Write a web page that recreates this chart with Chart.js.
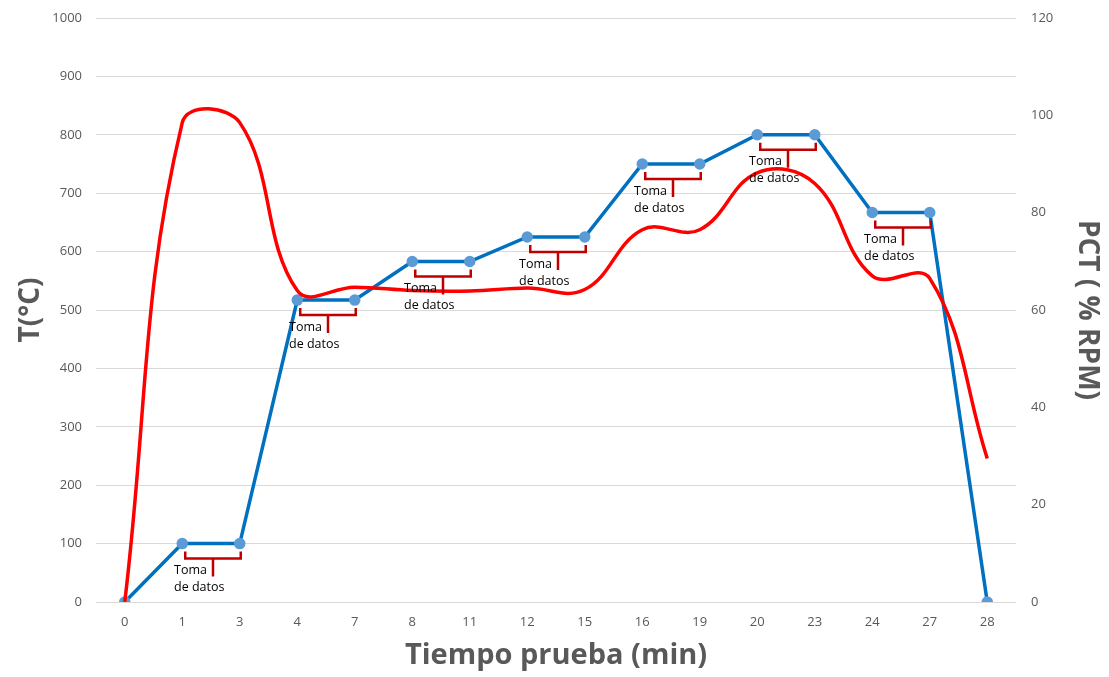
<!DOCTYPE html>
<html>
<head>
<meta charset="utf-8">
<script src="https://cdn.jsdelivr.net/npm/chart.js@4.4.1/dist/chart.umd.min.js"></script>
<style>
  html, body { margin: 0; padding: 0; background: #fff; }
  #wrap { width: 1109px; height: 677px; position: relative; }
</style>
</head>
<body>
<div id="wrap"><canvas id="grafico"></canvas></div>
<script>
// tiempo de prueba (min)
var categorias = ['0','1','3','4','7','8','11','12','15','16','19','20','23','24','27','28'];
// temperatura (°C)
var temperatura = [0, 100, 100, 517, 517, 583, 583, 625, 625, 750, 750, 800, 800, 667, 667, 0];
// PCT (% RPM)
var pct = [0, 98.5, 98.5, 64, 64.7, 64, 63.9, 64.5, 64.2, 76.5, 76.5, 88.2, 86, 67, 66.5, 29.5];
// tramos estables donde se toman datos (indice inicio, indice fin)
var tomaDatos = [[1, 2], [3, 4], [5, 6], [7, 8], [9, 10], [11, 12], [13, 14]];

var gris = '#595959';

// llaves rojas + texto "Toma de datos" debajo de cada tramo plano
var llaves = {
	id: 'llaves',
	afterDatasetsDraw: function(chart) {
		var ctx = chart.ctx;
		var x = chart.scales.x, y = chart.scales.y;
		ctx.save();
		tomaDatos.forEach(function(t) {
			var x1 = x.getPixelForValue(t[0]) + 3;
			var x2 = x.getPixelForValue(t[1]) + 1;
			var yb = y.getPixelForValue(temperatura[t[0]]) + 15;
			var xc = (x1 + x2) / 2;
			ctx.strokeStyle = '#C00000';
			ctx.lineWidth = 2.5;
			ctx.beginPath();
			ctx.moveTo(x1, yb - 7);
			ctx.lineTo(x1, yb);
			ctx.lineTo(x2, yb);
			ctx.lineTo(x2, yb - 7);
			ctx.moveTo(xc, yb);
			ctx.lineTo(xc, yb + 18);
			ctx.stroke();
			ctx.fillStyle = '#000';
			ctx.font = '12.5px "Open Sans", sans-serif';
			ctx.textAlign = 'left';
			ctx.textBaseline = 'middle';
			ctx.fillText('Toma', xc - 39, yb + 12);
			ctx.fillText('de datos', xc - 39, yb + 29);
		});
		ctx.restore();
	}
};

new Chart(document.getElementById('grafico'), {
	type: 'line',
	data: {
		labels: categorias,
		datasets: [
			{
				label: 'PCT',
				data: pct,
				yAxisID: 'y2',
				borderColor: '#FF0000',
				borderWidth: 3.5,
				pointRadius: 0,
				tension: 0.4,
				fill: false
			},
			{
				label: 'T',
				data: temperatura,
				yAxisID: 'y',
				borderColor: '#0070C0',
				borderWidth: 3.5,
				pointRadius: 4,
				pointBackgroundColor: '#5B9BD5',
				pointBorderColor: '#5B9BD5',
				tension: 0,
				fill: false
			}
		]
	},
	options: {
		responsive: true,
		maintainAspectRatio: false,
		animation: false,
		layout: { padding: { top: 18, left: 0, right: 0, bottom: 0 } },
		plugins: { legend: { display: false }, tooltip: { enabled: false } },
		scales: {
			x: {
				offset: true,
				grid: { display: false, drawTicks: false },
				border: { display: false },
				ticks: { color: gris, font: { family: '"Open Sans"', size: 13 }, padding: 12, maxRotation: 0 },
				title: { display: true, text: 'Tiempo prueba (min)', color: gris,
					font: { family: '"Open Sans"', size: 29, weight: 'bold' }, padding: { top: 4 } },
				afterFit: function(s) { s.height = 75; }
			},
			y: {
				position: 'left',
				min: 0, max: 1000,
				ticks: { stepSize: 100, color: gris, font: { family: '"Open Sans"', size: 13 }, padding: 14,
					callback: function(v) { return String(v); } },
				grid: { color: '#D9D9D9', lineWidth: 1, drawTicks: false },
				border: { display: false },
				title: { display: true, text: 'T(°C)', color: gris,
					font: { family: '"Open Sans"', size: 28, weight: 'bold' }, padding: { top: 14, bottom: 0 } },
				afterFit: function(s) { s.width = 96; s.paddingTop = 4; s.paddingBottom = 0; }
			},
			y2: {
				position: 'right',
				min: 0, max: 120,
				ticks: { stepSize: 20, color: gris, font: { family: '"Open Sans"', size: 13 }, padding: 15 },
				grid: { display: false, drawTicks: false },
				border: { display: false },
				title: { display: true, text: 'PCT ( % RPM)', color: gris,
					font: { family: '"Open Sans"', size: 28, weight: 'bold' }, padding: { top: 5, bottom: 0 } },
				afterFit: function(s) { s.width = 93; s.paddingTop = 4; s.paddingBottom = 0; }
			}
		}
	},
	plugins: [llaves]
});
</script>
</body>
</html>
